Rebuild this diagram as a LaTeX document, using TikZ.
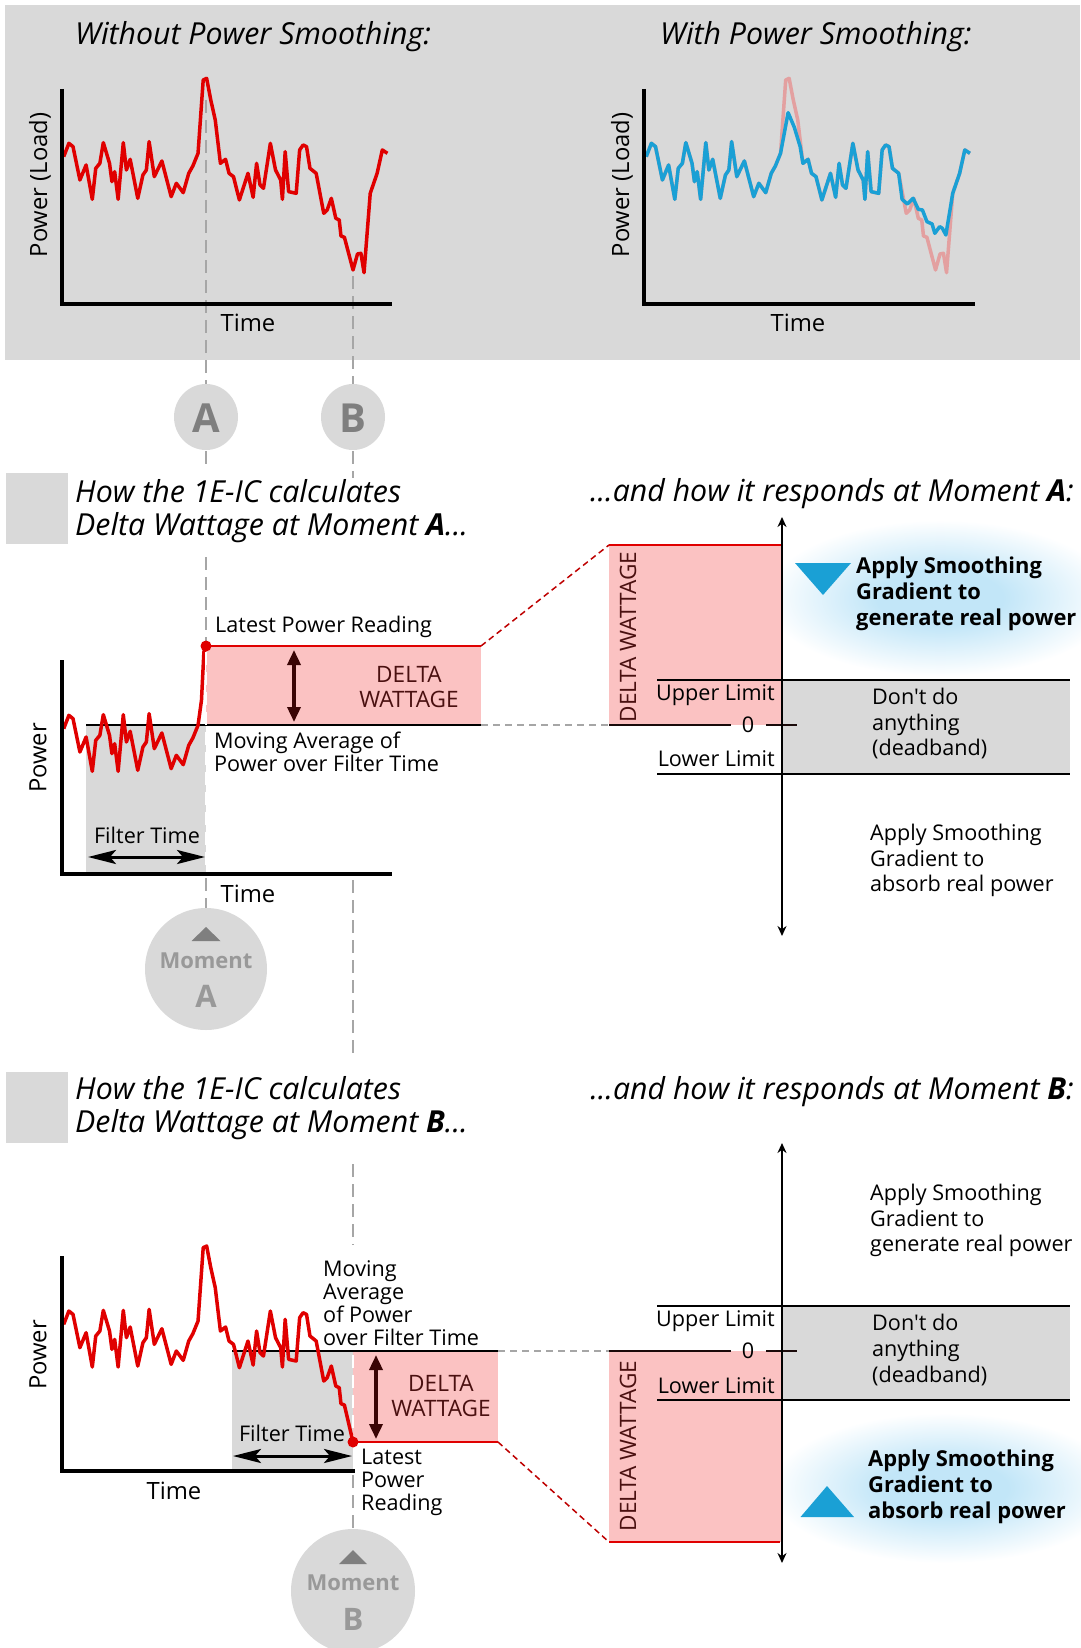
\documentclass[tikz,border=0pt]{standalone}
\usepackage{fontspec}
\setmainfont[Ligatures=TeXOff]{Open Sans}
\usetikzlibrary{arrows.meta}

\definecolor{panelgray}{HTML}{D9D9D9}
\definecolor{dashgray}{HTML}{A6A6A6}
\definecolor{lettergray}{HTML}{7F7F7F}
\definecolor{momentgray}{HTML}{999999}
\definecolor{curvered}{HTML}{E00000}
\definecolor{fadedred}{HTML}{E3A0A0}
\definecolor{smoothblue}{HTML}{1AA0D5}
\definecolor{deltapink}{HTML}{FBC2C2}
\definecolor{deltadark}{HTML}{3A0505}
\definecolor{deltatext}{HTML}{4A1010}
\definecolor{glowblue}{HTML}{C2E6F8}
\definecolor{limitdark}{HTML}{1A0A0A}

% soft halo behind the highlighted responses (edge of the path = 25bp)
\pgfdeclareradialshading{glow}{\pgfpoint{0bp}{0bp}}{%
  color(0bp)=(glowblue); color(9bp)=(glowblue); color(25bp)=(white); color(50bp)=(white)}

% load curve pieces, in curve units
\def\segOne{(185,470) -- (200,430) -- (212,440) -- (232,540) -- (250,495) -- (268,598) -- (278,505) -- (290,490) -- (300,428) -- (318,490) -- (325,545) -- (333,515) -- (343,598) -- (358,428) -- (367,510) -- (378,478) -- (400,595) -- (415,525) -- (425,510) -- (433,425) -- (448,530) -- (470,483) -- (497,590) -- (512,550) -- (532,578) -- (548,520) -- (560,498) -- (575,460)}
\def\segPeak{(590,240) -- (600,235) -- (612,300) -- (625,360)}
\def\segMid{(640,490) -- (655,478) -- (665,520) -- (678,530) -- (695,600) -- (720,520) -- (735,592) -- (745,490) -- (755,555) -- (765,565) -- (785,430) -- (800,510) -- (815,540) -- (820,598) -- (828,455) -- (838,575) -- (860,580) -- (870,450) -- (880,435) -- (890,440) -- (900,505) -- (918,520)}
\def\segDip{(940,640) -- (950,630) -- (962,595) -- (975,655) -- (985,660) -- (990,708) -- (1000,712)}
\def\segEnd{(1025,810) -- (1038,762) -- (1048,760) -- (1057,818) -- (1075,580) -- (1095,520) -- (1110,450) -- (1125,460)}
\def\bluePeak{(597,338) -- (615,382) -- (632,440)}
\def\blueDip{(928,598) -- (943,612) -- (960,595) -- (975,628) -- (987,630) -- (1000,665) -- (1015,672) -- (1023,700) -- (1037,680) -- (1045,685) -- (1055,705) -- (1075,580) -- (1095,520) -- (1110,450) -- (1125,460)}

\newcommand{\bodyfont}{\fontsize{21.6}{22.8}\selectfont}
\newcommand{\paneFont}{\fontsize{21.6}{25.8}\selectfont}
\newcommand{\boldPaneFont}{\fontsize{21.9}{26}\selectfont\bfseries}
\newcommand{\axisFont}{\fontsize{23.8}{26}\selectfont}
\newcommand{\deltaFont}{\fontsize{22.6}{25}\selectfont}
\newcommand{\headfont}{\fontsize{30.3}{33}\selectfont\itshape}

\begin{document}
\begin{tikzpicture}[x=1pt,y=-1pt,
  lbl/.style={font=\bodyfont, inner sep=0pt, align=left},
  panelbl/.style={font=\paneFont, inner sep=0pt, align=left},
  boldlbl/.style={font=\boldPaneFont, inner sep=0pt, align=left},
  axislbl/.style={font=\axisFont, inner sep=0pt},
  headlbl/.style={font=\headfont, inner sep=0pt, align=left},
  guide/.style={dashgray, line width=2pt, dash pattern=on 13pt off 7pt},
  guidewhite/.style={white, line width=2pt, dash pattern=on 13pt off 7pt},
  axis/.style={black, line width=4pt},
  curvescale/.style={xscale=0.3444, yscale=0.3333},
  loadcurve/.style={curvered, line width=3.5pt, line join=round},
  link/.style={curvered!85!black, line width=1.5pt, dash pattern=on 6pt off 4pt},
  levelline/.style={black, line width=2pt},
  deltaarrow/.style={deltadark, line width=3.5pt, {Triangle[length=15pt,width=13pt]}-{Triangle[length=15pt,width=13pt]}},
  spanarrow/.style={black, line width=3pt, {Stealth[length=28pt,width=14pt,inset=6pt]}-{Stealth[length=28pt,width=14pt,inset=6pt]}},
  responseaxis/.style={black, line width=2pt, {Stealth[length=10pt,width=9pt]}-{Stealth[length=10pt,width=9pt]}},
  marker/.style={fill=panelgray, draw=none},
  dot/.style={circle, fill=curvered, inner sep=0pt, minimum size=11pt},
  deltalbl/.style={font=\deltaFont, text=deltatext, inner sep=0pt, align=center},
  bigletter/.style={font=\fontsize{40}{40}\selectfont\bfseries, text=lettergray, inner sep=0pt},
  momentword/.style={font=\fontsize{22}{22}\selectfont\bfseries, text=momentgray, inner sep=0pt},
  momentletter/.style={font=\fontsize{31}{31}\selectfont\bfseries, text=momentgray, inner sep=0pt}
]
\useasboundingbox (0,0) rectangle (1080,1648);

% ---------------- top panel ----------------
\fill[panelgray] (5,5) rectangle (1080,360);
\node[headlbl, anchor=west] (t1) at (75,37) {Without Power Smoothing:};
\node[headlbl, anchor=west] (t2) at (660,37) {With Power Smoothing:};

% moment guides through the raw curve
\draw[guide] (206,100) -- (206,385);
\draw[guide] (353,276) -- (353,385);

% raw load
\begin{scope}[curvescale]
  \draw[loadcurve] \segOne -- \segPeak -- \segMid -- \segDip -- \segEnd;
\end{scope}
\draw[axis] (62,89) -- (62,304) -- (392,304);
\node[axislbl, rotate=90] (py1) at (40,185) {Power (Load)};
\node[axislbl] (tx1) at (248,323) {Time};

% smoothed load
\begin{scope}[shift={(582.5,0)}, curvescale]
  \draw[fadedred, line width=3.5pt, line join=round] \segOne -- \segPeak -- \segMid -- \segDip -- \segEnd;
  \draw[smoothblue, line width=3.5pt, line join=round] \segOne -- \bluePeak -- \segMid -- \blueDip;
\end{scope}
\draw[axis] (644,89) -- (644,304) -- (975,304);
\node[axislbl, rotate=90] (py2) at (622,185) {Power (Load)};
\node[axislbl] (tx2) at (798,323) {Time};

% moment markers
\path[marker] (206,417) ellipse [x radius=32pt, y radius=33pt];
\path[marker] (353,417) ellipse [x radius=32pt, y radius=33pt];
\node[bigletter] (mA) at (206,418) {A};
\node[bigletter] (mB) at (353,418) {B};
\draw[guide] (206,451) -- (206,467);
\draw[guide] (353,451) -- (353,478);

% ---------------- moment A ----------------
\fill[panelgray] (6,473) rectangle (68,544);
\node[headlbl, anchor=west] (hA) at (75,511) {How the 1E-IC calculates\\Delta Wattage at Moment \textbf{A}...};
\node[headlbl, anchor=east] (rA) at (1074,494) {...and how it responds at Moment \textbf{A}:};

\fill[panelgray] (86,725) rectangle (206,874);
\fill[deltapink] (206,646) rectangle (481,725);
\draw[curvered, line width=2pt] (206,646) -- (481,646);
\draw[levelline] (86,725) -- (481,725);
\draw[dashgray, line width=1.5pt, dash pattern=on 7pt off 5pt] (481,725) -- (609,725);
\draw[guide] (206,557) -- (206,641);
\begin{scope}[shift={(0,572)}, curvescale]
  \draw[loadcurve] \segOne -- (585,385) -- (592,240) -- (598,222);
\end{scope}
\draw[guidewhite] (206,652) -- (206,871);
\draw[axis] (62,660) -- (62,874) -- (392,874);
\node[dot] (lpA) at (206,646) {};
\draw[deltaarrow] (294,650) -- (294,722);
\node[deltalbl] (dwA) at (409,687) {DELTA\\WATTAGE};
\node[lbl, anchor=west] (lrA) at (215,627) {Latest Power Reading};
\node[lbl, anchor=west] (maA) at (214,752) {Moving Average of\\Power over Filter Time};
\node[lbl] (ftA) at (147,835) {Filter Time};
\draw[spanarrow] (88,857) -- (205,857);
\node[axislbl, rotate=90] (pA) at (38,758) {Power};
\node[axislbl] (tA) at (248,894) {Time};

\draw[guide] (206,878) -- (206,926);
\path[marker] (206,969) ellipse [x radius=61pt, y radius=61pt];
\fill[lettergray] (191.5,941) -- (220.5,941) -- (206,927) -- cycle;
\node[momentword] (mmA) at (206,961) {Moment};
\node[momentletter] (mlA) at (206,996) {A};

% response to A
\shade[shading=glow] (940,598) ellipse [x radius=175pt, y radius=78pt];
\fill[deltapink] (609,545) rectangle (782,725);
\draw[curvered, line width=2pt] (609,545) -- (782,545);
\fill[panelgray] (782,680) rectangle (1070,774);
\draw[levelline] (657,680) -- (1070,680);
\draw[levelline] (657,774) -- (1070,774);
\draw[limitdark, line width=2pt] (609,725) -- (731,725);
\draw[limitdark, line width=2pt] (766,725) -- (797,725);
\node[font=\bodyfont, inner sep=0pt] (zA) at (748,725) {0};
\draw[responseaxis] (782,517) -- (782,936);
\draw[link] (481,646) -- (609,545);
\node[deltalbl, rotate=90] (dvA) at (628,637) {DELTA WATTAGE};
\node[lbl, anchor=east] (ulA) at (775,695) {Upper Limit};
\node[lbl, anchor=east] (llA) at (775,759) {Lower Limit};
\fill[smoothblue] (795,563) -- (851,563) -- (823,595) -- cycle;
\node[boldlbl, anchor=west] (gA) at (856,594) {Apply Smoothing\\Gradient to\\generate real power};
\node[panelbl, anchor=west] (dbA) at (872,723.5) {Don't do\\anything\\(deadband)};
\node[panelbl, anchor=west] (abA) at (870,860.5) {Apply Smoothing\\Gradient to\\absorb real power};

\draw[guide] (353,880) -- (353,1056);

% ---------------- moment B ----------------
\fill[panelgray] (6,1072) rectangle (68,1143);
\node[headlbl, anchor=west] (hB) at (75,1108.5) {How the 1E-IC calculates\\Delta Wattage at Moment \textbf{B}...};
\node[headlbl, anchor=east] (rB) at (1074,1092) {...and how it responds at Moment \textbf{B}:};

\draw[guide] (353,1164) -- (353,1245);
\fill[panelgray] (232,1351) rectangle (353,1471);
\fill[deltapink] (353,1351) rectangle (498,1442);
\draw[curvered, line width=2pt] (353,1442) -- (498,1442);
\draw[levelline] (232,1351) -- (498,1351);
\draw[dashgray, line width=1.5pt, dash pattern=on 7pt off 5pt] (498,1351) -- (609,1351);
\draw[guidewhite] (353,1355) -- (353,1437);
\begin{scope}[shift={(0,1167.7)}, curvescale]
  \draw[loadcurve] \segOne -- \segPeak -- \segMid -- \segDip -- (1025,823);
\end{scope}
\draw[axis] (62,1256) -- (62,1471) -- (355,1471);
\node[dot] (lpB) at (353,1442) {};
\draw[deltaarrow] (376,1355) -- (376,1439);
\node[deltalbl] (dwB) at (441,1396) {DELTA\\WATTAGE};
\node[lbl, anchor=west] (maB) at (323,1303) {Moving\\Average\\of Power\\over Filter Time};
\node[lbl] (ftB) at (292,1433) {Filter Time};
\draw[spanarrow] (233,1456) -- (352,1456);
\node[lbl, anchor=west] (lrB) at (361,1482.5) {Latest\\Power\\Reading};
\node[axislbl, rotate=90] (pB) at (38,1355) {Power};
\node[axislbl] (tB) at (174,1491) {Time};

\draw[guide] (353,1475) -- (353,1549);
\path[marker] (353,1591) ellipse [x radius=62pt, y radius=62pt];
\fill[lettergray] (339,1564) -- (367,1564) -- (353,1550) -- cycle;
\node[momentword] (mmB) at (353,1583) {Moment};
\node[momentletter] (mlB) at (353,1619) {B};

% response to B
\shade[shading=glow] (945,1488) ellipse [x radius=175pt, y radius=75pt];
\fill[deltapink] (609,1351) rectangle (782,1542);
\draw[curvered, line width=2pt] (609,1542) -- (780,1542);
\fill[panelgray] (782,1306) rectangle (1070,1400);
\draw[levelline] (657,1306) -- (1070,1306);
\draw[levelline] (657,1400) -- (1070,1400);
\draw[limitdark, line width=2pt] (609,1351) -- (731,1351);
\draw[limitdark, line width=2pt] (766,1351) -- (797,1351);
\node[font=\bodyfont, inner sep=0pt] (zB) at (748,1351) {0};
\draw[responseaxis] (782,1143) -- (782,1563);
\draw[link] (498,1442) -- (609,1542);
\node[deltalbl, rotate=90] (dvB) at (628,1446) {DELTA WATTAGE};
\node[lbl, anchor=east] (ulB) at (775,1321) {Upper Limit};
\node[lbl, anchor=east] (llB) at (775,1386) {Lower Limit};
\fill[smoothblue] (800.5,1517) -- (854,1517) -- (827,1486) -- cycle;
\node[boldlbl, anchor=west] (gB) at (868,1487) {Apply Smoothing\\Gradient to\\absorb real power};
\node[panelbl, anchor=west] (dbB) at (872,1350) {Don't do\\anything\\(deadband)};
\node[panelbl, anchor=west] (geB) at (870,1220.5) {Apply Smoothing\\Gradient to\\generate real power};
\end{tikzpicture}
\end{document}
